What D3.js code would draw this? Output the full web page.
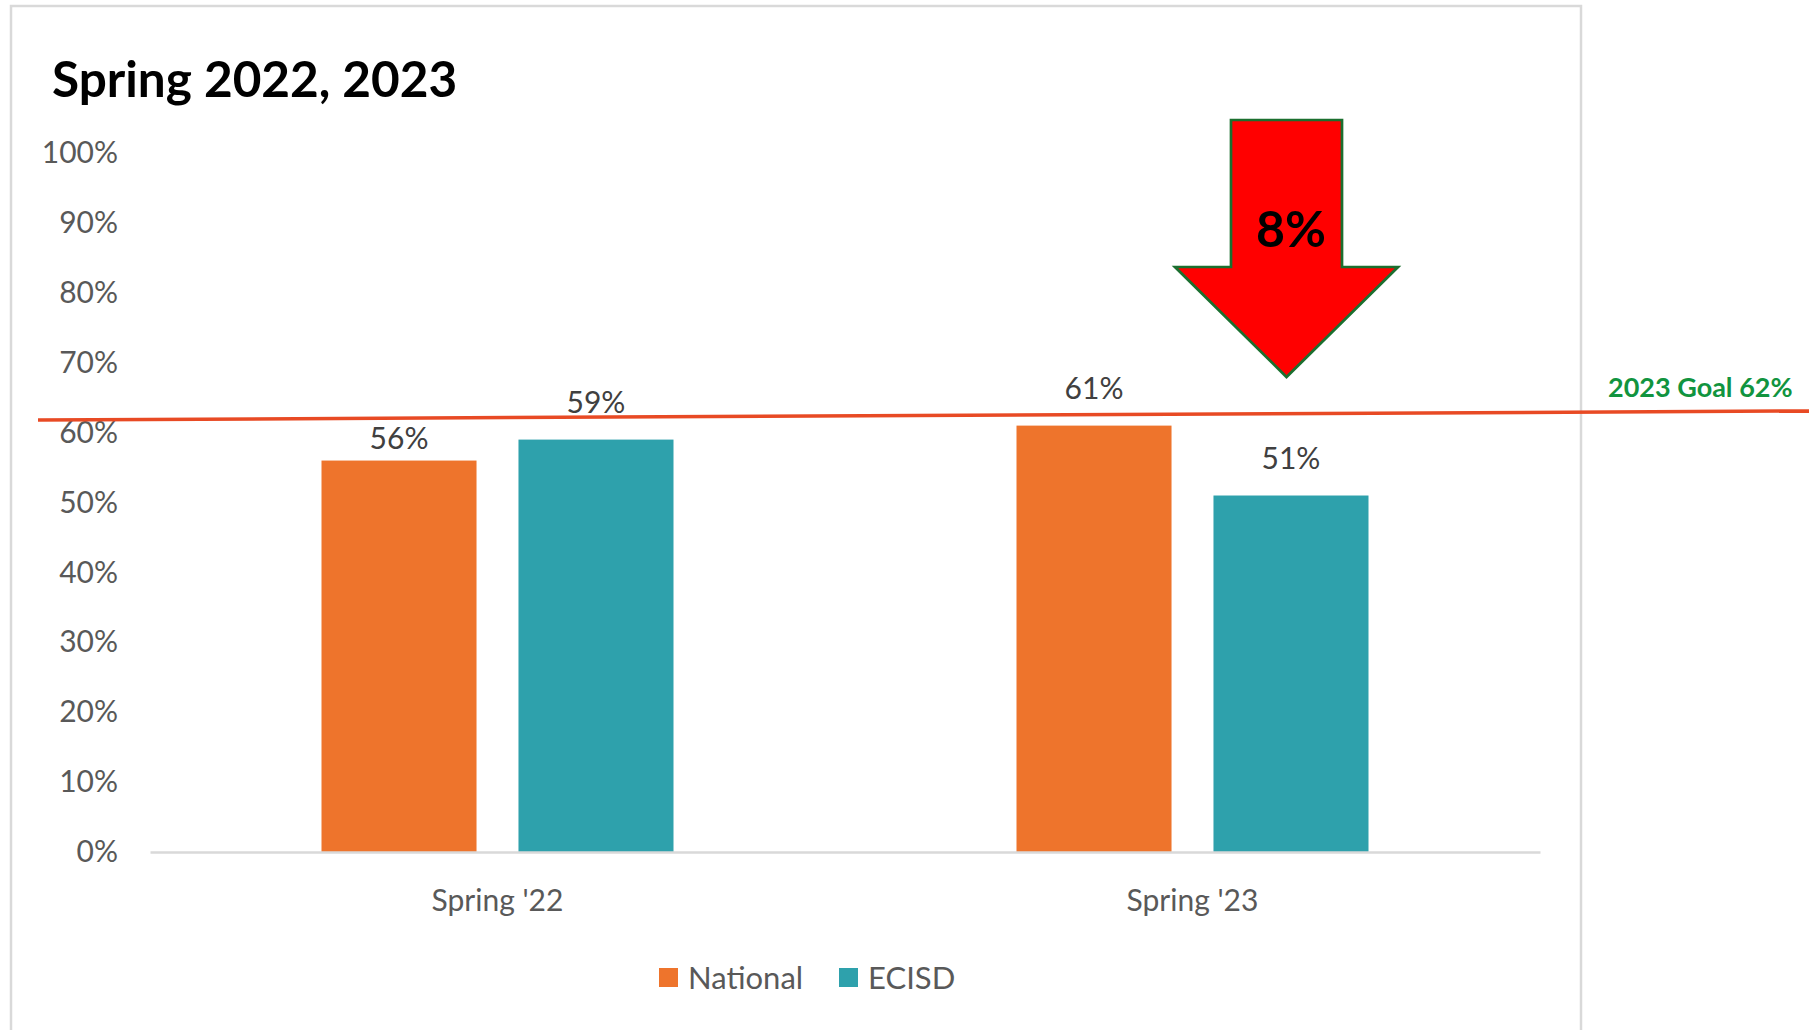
<!DOCTYPE html>
<html>
<head>
<meta charset="utf-8">
<script src="https://cdn.jsdelivr.net/npm/d3@7"></script>
<style>
  html, body { margin: 0; padding: 0; background: #ffffff; }
  svg { display: block; font-family: Lato, "Open Sans", sans-serif; }
</style>
</head>
<body>
<svg id="chart" width="1809" height="1030"></svg>
<script>
// ---- data ----
const categories = ["Spring '22", "Spring '23"];
const seriesNames = ["National", "ECISD"];
const nationalValues = [56, 61];
const ecisdValues = [59, 51];
const yTickValues = [0, 10, 20, 30, 40, 50, 60, 70, 80, 90, 100];
const goalLabel = "2023 Goal 62%";
const goalLineValues = [61.8, 63.1];   // hand-drawn line, slightly tilted
const titleText = "Spring 2022, 2023";
const arrowLabel = "8%";

// ---- style ----
const colors = { National: "#EE742C", ECISD: "#2EA1AC" };
const svg = d3.select("#chart");
const W = 1809, H = 1030;

// frame
svg.append("rect")
  .attr("x", 11).attr("y", 6).attr("width", 1570).attr("height", H + 20)
  .attr("fill", "#fff").attr("stroke", "#d9d9d9").attr("stroke-width", 2.5);

// title
svg.append("text")
  .attr("x", 52).attr("y", 97)
  .attr("font-size", 49.5).attr("font-weight", 700).attr("fill", "#000")
  .text(titleText);

// scales
const y = d3.scaleLinear().domain([0, 100]).range([852, 153]);
const x0 = d3.scaleBand().domain(categories).range([150, 1540]).padding(0);
const groupW = 352;
const x1 = d3.scaleBand().domain(seriesNames)
  .range([(x0.bandwidth() - groupW) / 2, (x0.bandwidth() + groupW) / 2])
  .paddingInner(0.213);

// y axis
const yAxis = svg.append("g").attr("transform", "translate(150,0)")
  .call(d3.axisLeft(y).tickValues(yTickValues).tickFormat(d => d + "%").tickSize(0).tickPadding(32));
yAxis.select(".domain").remove();
yAxis.selectAll("text").attr("font-family", "Lato, sans-serif").attr("font-size", 30).attr("fill", "#595959");

// bars
const rows = categories.map((c, i) => ({
  cat: c,
  vals: [{ s: "National", v: nationalValues[i] }, { s: "ECISD", v: ecisdValues[i] }]
}));
const labelGap = [[12, 27], [27, 27]];

const groups = svg.append("g").selectAll("g").data(rows).join("g")
  .attr("transform", d => `translate(${x0(d.cat)},0)`);
groups.selectAll("rect").data(d => d.vals).join("rect")
  .attr("x", d => x1(d.s)).attr("width", x1.bandwidth())
  .attr("y", d => y(d.v)).attr("height", d => y(0) - y(d.v))
  .attr("fill", d => colors[d.s]);
groups.each(function (d, i) {
  d3.select(this).selectAll("text.lbl").data(d.vals).join("text")
    .attr("class", "lbl")
    .attr("x", v => x1(v.s) + x1.bandwidth() / 2)
    .attr("y", (v, j) => y(v.v) - labelGap[i][j])
    .attr("text-anchor", "middle")
    .attr("font-size", 30).attr("fill", "#404040")
    .text(v => v.v + "%");
});

// x axis
const xAxis = svg.append("g").attr("transform", `translate(0,${y(0)})`)
  .call(d3.axisBottom(x0).tickSize(0).tickPadding(38));
xAxis.select(".domain").attr("stroke", "#d9d9d9").attr("stroke-width", 2.5);
xAxis.selectAll("text").attr("font-family", "Lato, sans-serif").attr("font-size", 30).attr("fill", "#595959");

// goal line
svg.append("line")
  .attr("x1", 38).attr("x2", W)
  .attr("y1", y(goalLineValues[0])).attr("y2", y(goalLineValues[1]))
  .attr("stroke", "#E84A24").attr("stroke-width", 3.5);
svg.append("text")
  .attr("x", 1608).attr("y", 397)
  .attr("font-size", 27).attr("font-weight", 700).attr("fill", "#11943F")
  .text(goalLabel);

// arrow
const cx = 1286.5, shaftHW = 55.5, headHW = 111.5, topY = 120, headY = 267, tipY = 377;
svg.append("polygon")
  .attr("points", [
    [cx - shaftHW, topY], [cx + shaftHW, topY], [cx + shaftHW, headY], [cx + headHW, headY],
    [cx, tipY], [cx - headHW, headY], [cx - shaftHW, headY]
  ].map(p => p.join(",")).join(" "))
  .attr("fill", "#FF0000").attr("stroke", "#1B6F2F").attr("stroke-width", 2.7);
svg.append("text")
  .attr("x", 1291).attr("y", 247).attr("text-anchor", "middle")
  .attr("font-size", 50).attr("font-weight", 700).attr("fill", "#000")
  .text(arrowLabel);

// legend
const legendItems = [{ s: "National", x: 659 }, { s: "ECISD", x: 839 }];
const lg = svg.append("g").selectAll("g").data(legendItems).join("g")
  .attr("transform", d => `translate(${d.x},968)`);
lg.append("rect").attr("width", 19).attr("height", 19).attr("fill", d => colors[d.s]);
lg.append("text").attr("x", 29).attr("y", 21)
  .attr("font-size", 31).attr("fill", "#595959").text(d => d.s);
</script>
</body>
</html>
